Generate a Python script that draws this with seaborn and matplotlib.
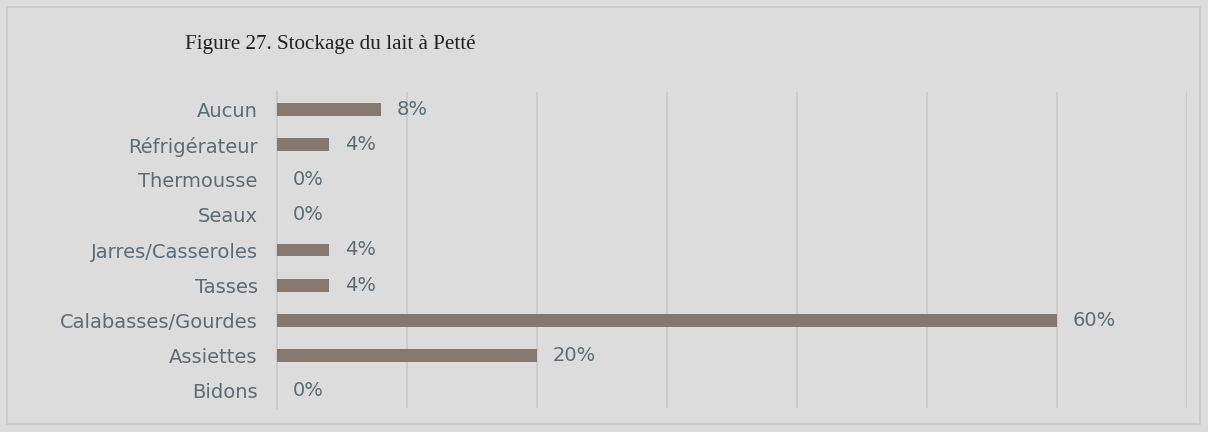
import matplotlib
matplotlib.use("Agg")
import matplotlib.pyplot as plt
import seaborn as sns
import pandas as pd
from matplotlib.patches import Rectangle

categories = ["Aucun", "Réfrigérateur", "Thermousse", "Seaux", "Jarres/Casseroles",
              "Tasses", "Calabasses/Gourdes", "Assiettes", "Bidons"]
values = [8, 4, 0, 0, 4, 4, 60, 20, 0]
title = "Figure 27. Stockage du lait à Petté"

df = pd.DataFrame({"cat": categories, "val": values})

sns.set_theme(style="white")
plt.rcParams["font.family"] = ["DejaVu Sans"]

bg = "#dcdcdc"
txt = "#5f6b73"
fig = plt.figure(figsize=(12.08, 4.32), dpi=100, facecolor=bg)
ax = fig.add_axes([277/1208, 1-408/432, (1187-277)/1208, (408-92)/432])
ax.set_facecolor(bg)

sns.barplot(data=df, x="val", y="cat", orient="h", color="#857870",
            saturation=1, width=0.37, linewidth=0, ax=ax, zorder=3)

ax.set_xlim(0, 70)
ax.set_ylim(8.5, -0.5)
ax.set_xticks(range(0, 71, 10))
ax.set_xticklabels([])
ax.tick_params(axis="x", length=0)
ax.tick_params(axis="y", length=0, pad=14, labelsize=14, labelcolor=txt)
ax.grid(axis="x", color="#c8c8c8", linewidth=1.2, zorder=0)
ax.set_xlabel("")
ax.set_ylabel("")
for s in ["top", "right", "bottom"]:
    ax.spines[s].set_visible(False)
ax.spines["left"].set_color("#c8c8c8")
ax.spines["left"].set_linewidth(1.2)

for c in ax.containers:
    ax.bar_label(c, labels=[f"{v}%" for v in values], padding=11.5,
                 fontsize=14, color=txt)

fig.text(185/1208, 1-45/432, title, fontsize=15.2, family="Liberation Serif",
         color="#222222", ha="left", va="center")

fig.patches.append(Rectangle((7/1208, 8/432), 1193/1208, 417/432, transform=fig.transFigure,
                             fill=False, edgecolor="#c8c8c8", linewidth=1.2))

fig.savefig("out.png", dpi=100, facecolor=bg)
